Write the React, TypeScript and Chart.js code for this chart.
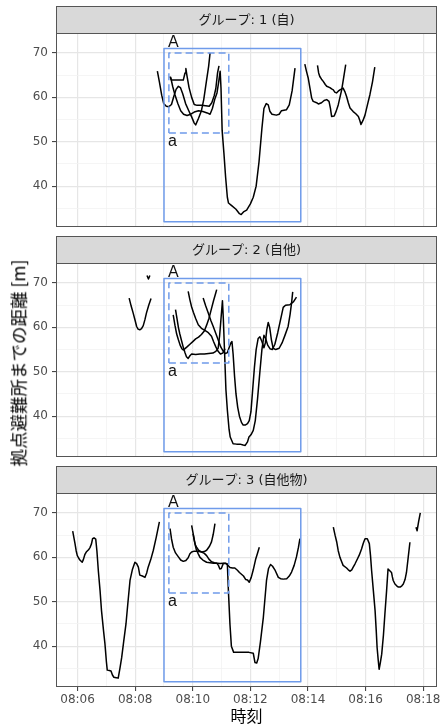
import React, { useEffect, useRef } from 'react';
import { Chart, registerables } from 'chart.js';

Chart.register(...registerables);

type Pt = [number, number];

// ---- axes (x = minutes after 08:00) ----
const xMin = 5.25;
const xMax = 18.48;
const yMin = 30.8;
const yMax = 74.5;
const xMajorTicks = [6, 8, 10, 12, 14, 16, 18];
const xMinorTicks = [7, 9, 11, 13, 15, 17];
const yMajorTicks = [40, 50, 60, 70];
const yMinorTicks = [35, 45, 55, 65];

const panelTitles = ['グループ: 1 (自)', 'グループ: 2 (自他)', 'グループ: 3 (自他物)'];
const xAxisTitle = '時刻';
const yAxisTitle = '拠点避難所までの距離 [m]';

// ---- annotation boxes and labels ----
const solidBoxX = [9.0, 13.75];
const solidBoxY = [32, 71];
const dashedBoxX = [9.17, 11.25];
const dashedBoxY = [52, 70];
const upperLabel = { text: 'A', x: 9.14, y: 72.4 };
const lowerLabel = { text: 'a', x: 9.14, y: 50.0 };

// ---- group 1 ----
const g1Line1: Pt[] = [[8.77,65.9],[8.84,63.5],[8.92,60.5],[8.99,58.6],[9.08,58.0],[9.17,57.9],[9.26,58.4],[9.34,60.2],[9.42,61.8],[9.5,62.5],[9.57,62.2],[9.65,60.8],[9.75,58.6],[9.86,57.0],[9.96,55.6],[10.05,54.2],[10.1,53.8],[10.2,55.3],[10.3,57.0],[10.38,59.5],[10.47,63.5],[10.55,67.0],[10.6,70.0]];
const g1Line2: Pt[] = [[9.2,64.7],[9.26,63.9],[9.4,63.9],[9.55,63.9],[9.67,63.9],[9.73,65.5],[9.76,66.5],[9.8,64.8],[9.87,62.2],[9.96,60.0],[10.05,58.4],[10.15,58.2],[10.3,58.2],[10.45,58.1],[10.57,58.0],[10.66,58.8],[10.74,60.3],[10.8,62.0],[10.86,65.5],[10.91,67.1]];
const g1Line3: Pt[] = [[9.23,64.6],[9.3,62.5],[9.38,60.6],[9.48,58.6],[9.58,57.0],[9.68,56.2],[9.8,55.9],[9.93,56.2],[10.05,56.7],[10.2,57.0],[10.35,56.8],[10.5,56.5],[10.6,56.2],[10.68,57.5],[10.76,59.5],[10.84,61.0],[10.9,63.5],[10.95,65.9],[10.98,62.0],[11.02,52.5],[11.08,47.5],[11.14,42.0],[11.2,37.5],[11.24,36.2],[11.35,35.6],[11.5,34.8],[11.62,33.8],[11.68,33.6],[11.76,34.2],[11.87,34.6],[12.0,36.0],[12.1,37.5],[12.2,40.0],[12.3,45.5],[12.4,53.0],[12.47,57.5],[12.55,58.6],[12.62,58.3],[12.68,56.8],[12.75,56.2],[12.9,56.0],[13.0,56.2],[13.08,57.0],[13.25,57.2],[13.35,58.3],[13.45,61.5],[13.55,66.6]];
const g1Line4: Pt[] = [[13.89,67.5],[13.95,65.8],[14.01,64.3],[14.07,62.0],[14.13,59.8],[14.18,59.1],[14.3,58.8],[14.36,58.5],[14.47,58.8],[14.56,59.3],[14.65,59.5],[14.73,59.1],[14.78,57.5],[14.82,55.7],[14.91,55.8],[14.98,56.9],[15.05,58.3],[15.11,60.0],[15.17,61.7],[15.24,64.5],[15.31,67.4]];
const g1Line5: Pt[] = [[14.33,67.2],[14.37,65.5],[14.41,64.7],[14.47,64.1],[14.53,63.6],[14.6,62.9],[14.65,62.5],[14.76,62.2],[14.82,61.9],[14.88,61.7],[14.93,61.2],[14.99,61.0],[15.05,61.4],[15.11,61.7],[15.22,62.1],[15.28,61.3],[15.34,60.2],[15.4,58.8],[15.46,57.6],[15.57,56.8],[15.66,56.3],[15.75,55.7],[15.8,54.8],[15.84,53.9],[15.91,54.8],[15.98,56.0],[16.06,58.2],[16.15,60.6],[16.24,63.5],[16.32,66.8]];

// ---- group 2 ----
const g2Line1: Pt[] = [[8.41,71.7],[8.46,70.9],[8.51,71.7]];
const g2Line2: Pt[] = [[7.79,66.6],[7.86,64.8],[7.93,63.2],[8.0,61.5],[8.05,60.2],[8.1,59.6],[8.16,59.45],[8.22,59.7],[8.28,60.4],[8.34,61.8],[8.39,63.2],[8.47,65.0],[8.55,66.5]];
const g2Line3: Pt[] = [[9.4,64.0],[9.45,62.0],[9.5,60.0],[9.55,58.5],[9.61,57.0],[9.67,55.5],[9.73,54.3],[9.78,53.4],[9.84,53.0],[9.9,53.6],[9.96,54.0],[10.1,53.9],[10.25,54.0],[10.4,54.0],[10.55,54.1],[10.7,54.2],[10.8,54.6],[10.88,55.3],[10.93,58.0],[10.98,62.0],[11.03,66.0],[11.06,62.0],[11.1,55.0],[11.15,46.0],[11.2,41.4],[11.26,37.0],[11.3,35.3],[11.4,33.8],[11.52,33.7],[11.64,33.7],[11.75,33.5],[11.82,33.4],[11.9,34.2],[11.95,35.3],[12.02,35.8],[12.1,36.8],[12.17,39.0],[12.25,44.0],[12.33,50.0],[12.4,55.0],[12.47,58.2],[12.53,57.5],[12.6,56.0],[12.68,55.2],[12.76,55.0],[12.85,56.2],[12.95,58.8],[13.05,61.8],[13.14,64.5],[13.22,65.0],[13.37,65.1],[13.5,65.8],[13.6,66.8]];
const g2Line4: Pt[] = [[9.32,62.8],[9.38,60.5],[9.44,58.5],[9.5,57.2],[9.56,56.0],[9.62,55.2],[9.67,54.9],[9.73,55.2],[9.8,55.6],[9.9,56.2],[10.0,56.8],[10.1,57.4],[10.2,57.8],[10.3,58.4],[10.4,59.2],[10.48,60.5],[10.56,62.0],[10.64,64.0],[10.72,66.0],[10.8,67.8],[10.83,68.5]];
const g2Line5: Pt[] = [[9.84,68.1],[9.9,66.2],[9.96,64.6],[10.02,63.4],[10.1,62.0],[10.19,60.6],[10.3,59.8],[10.42,59.3],[10.54,58.8],[10.65,58.0],[10.72,56.8],[10.8,55.6],[10.88,54.6],[10.96,54.0],[11.04,54.2],[11.12,55.2]];
const g2Line6: Pt[] = [[10.36,66.6],[10.45,64.8],[10.54,63.2],[10.63,61.5],[10.71,60.2],[10.8,58.6],[10.88,57.2],[10.97,55.6],[11.06,54.6],[11.13,54.1],[11.2,54.3],[11.26,55.4],[11.32,56.5],[11.36,56.8],[11.4,54.0],[11.45,49.0],[11.5,45.0],[11.56,42.0],[11.62,40.0],[11.69,38.6],[11.75,38.0],[11.82,38.0],[11.9,38.3],[11.96,39.0],[12.02,41.0],[12.08,46.0],[12.14,51.0],[12.2,55.0],[12.27,57.5],[12.33,57.9],[12.4,56.8],[12.47,55.4],[12.52,56.5],[12.57,59.5],[12.62,61.1],[12.67,60.0],[12.73,57.2],[12.79,55.3],[12.88,55.0],[13.0,55.3],[13.1,56.5],[13.2,58.2],[13.31,60.2],[13.38,63.0],[13.43,65.5],[13.47,68.0]];

// ---- group 3 ----
const g3Line1: Pt[] = [[5.83,65.9],[5.87,64.5],[5.91,63.1],[5.95,61.5],[5.99,60.4],[6.04,59.8],[6.08,59.4],[6.16,58.9],[6.2,59.5],[6.25,60.6],[6.3,61.2],[6.38,61.7],[6.43,62.2],[6.48,63.0],[6.52,64.2],[6.57,64.4],[6.63,64.1],[6.67,61.5],[6.72,57.0],[6.78,52.5],[6.83,48.0],[6.9,43.5],[6.95,40.5],[7.0,36.5],[7.03,34.6],[7.1,34.5],[7.16,34.4],[7.21,33.5],[7.26,33.0],[7.34,32.9],[7.41,32.8],[7.47,35.0],[7.53,37.4],[7.6,41.0],[7.68,45.0],[7.75,50.0],[7.82,54.8],[7.9,57.2],[7.99,58.9],[8.05,58.6],[8.11,57.8],[8.16,56.0],[8.25,55.8],[8.34,55.5],[8.4,56.5],[8.45,57.8],[8.54,59.5],[8.63,61.6],[8.73,64.5],[8.84,68.0]];
const g3Line2: Pt[] = [[9.21,66.5],[9.26,64.2],[9.32,62.3],[9.4,61.0],[9.5,60.1],[9.58,59.4],[9.67,59.1],[9.76,59.3],[9.84,59.9],[9.9,60.8],[9.96,61.2],[10.05,61.4],[10.13,61.4],[10.22,61.3],[10.31,61.2],[10.4,60.9],[10.48,60.4],[10.56,59.6],[10.65,59.0],[10.75,58.8],[10.85,58.7],[10.95,58.6],[11.06,58.7],[11.15,58.7],[11.22,58.2],[11.29,57.7],[11.38,57.6],[11.46,57.6],[11.55,57.1],[11.62,56.6],[11.69,56.2],[11.76,55.8],[11.84,55.0],[11.9,54.9],[11.96,54.4],[12.03,55.5],[12.1,57.2],[12.18,59.5],[12.25,61.0],[12.31,62.3]];
const g3Line3: Pt[] = [[9.96,67.2],[10.0,65.8],[10.05,64.0],[10.09,62.8],[10.13,62.3],[10.2,61.6],[10.31,61.2],[10.4,61.3],[10.48,61.6],[10.58,62.5],[10.65,63.5],[10.71,65.2],[10.77,67.6]];
const g3Line4: Pt[] = [[10.01,65.3],[10.06,63.5],[10.12,61.8],[10.19,60.8],[10.25,60.0],[10.35,59.4],[10.48,58.9],[10.6,58.8],[10.72,58.7],[10.83,58.7],[10.89,58.2],[10.94,57.4],[10.99,57.5],[11.06,58.6],[11.13,58.6],[11.2,58.5],[11.24,52.0],[11.29,45.0],[11.34,40.0],[11.42,38.6],[11.6,38.6],[11.8,38.6],[11.95,38.6],[12.1,38.4],[12.16,36.3],[12.22,36.2],[12.27,37.2],[12.35,41.0],[12.45,46.5],[12.56,54.8],[12.63,57.5],[12.7,58.4],[12.77,58.0],[12.85,57.2],[12.97,55.5],[13.05,55.2],[13.14,55.1],[13.26,55.2],[13.35,55.8],[13.43,56.7],[13.52,58.2],[13.6,60.1],[13.67,62.3],[13.72,64.2]];
const g3Line5: Pt[] = [[14.88,66.8],[14.94,65.0],[15.0,63.4],[15.05,61.5],[15.11,60.0],[15.17,59.0],[15.22,58.2],[15.34,57.6],[15.4,57.2],[15.46,56.9],[15.52,57.2],[15.57,57.8],[15.63,58.5],[15.69,59.3],[15.78,60.5],[15.86,61.9],[15.92,63.2],[15.98,64.2],[16.06,64.2],[16.13,63.1],[16.17,60.5],[16.21,57.0],[16.27,52.5],[16.33,48.0],[16.37,43.5],[16.4,39.7],[16.44,36.8],[16.47,34.8],[16.51,36.2],[16.56,38.2],[16.62,42.5],[16.67,47.2],[16.73,52.5],[16.78,57.4],[16.84,57.0],[16.9,56.6],[16.93,55.6],[16.96,54.8],[17.02,54.0],[17.08,53.6],[17.14,53.3],[17.2,53.3],[17.26,53.6],[17.31,54.0],[17.37,55.0],[17.42,56.6],[17.48,60.0],[17.54,63.4]];
const g3Line6: Pt[] = [[17.75,66.8],[17.79,66.0],[17.84,68.0],[17.9,70.0]];

const groupLines: Pt[][][] = [
  [g1Line1, g1Line2, g1Line3, g1Line4, g1Line5],
  [g2Line1, g2Line2, g2Line3, g2Line4, g2Line5, g2Line6],
  [g3Line1, g3Line2, g3Line3, g3Line4, g3Line5, g3Line6],
];

// ---- layout & style ----
const W = 441;
const PANEL_TOPS = [6, 236, 466];
const STRIP_H = 27;
const PLOT_H = 194;
const Y_AXIS_W = 56;
const RIGHT_PAD = 4;
const X_AXIS_H = 39;
const BLUE = '#6F9BEA';
const GRID_MAJOR = '#E6E6E6';
const GRID_MINOR = '#F3F3F3';
const BORDER = '#555555';
const TICK_TEXT = '#4D4D4D';
const LATIN = '"DejaVu Sans"';
const CJK = '"Noto Sans CJK JP"';

const boxPath = (xs: number[], ys: number[]) => [
  { x: xs[0], y: ys[0] }, { x: xs[1], y: ys[0] }, { x: xs[1], y: ys[1] },
  { x: xs[0], y: ys[1] }, { x: xs[0], y: ys[0] },
];

const pad2 = (n: number) => String(n).padStart(2, '0');

function makePlugin(title: string) {
  return {
    id: 'facetDecor',
    beforeDraw(chart: any) {
      const { ctx, chartArea: a } = chart;
      ctx.save();
      ctx.fillStyle = '#D9D9D9';
      ctx.fillRect(a.left, a.top - STRIP_H, a.right - a.left, STRIP_H);
      ctx.strokeStyle = BORDER;
      ctx.lineWidth = 1;
      ctx.strokeRect(a.left + 0.5, a.top - STRIP_H + 0.5, a.right - a.left - 1, STRIP_H);
      ctx.fillStyle = '#1A1A1A';
      ctx.font = `13px ${LATIN}, ${CJK}`;
      ctx.textAlign = 'center';
      ctx.textBaseline = 'middle';
      ctx.fillText(title, (a.left + a.right) / 2, a.top - STRIP_H / 2 + 1);
      ctx.restore();
    },
    afterDatasetsDraw(chart: any) {
      const { ctx } = chart;
      const xs = chart.scales.x;
      const ys = chart.scales.y;
      ctx.save();
      ctx.fillStyle = '#111111';
      ctx.font = '16px "Liberation Sans", Arial, sans-serif';
      ctx.textAlign = 'left';
      ctx.textBaseline = 'middle';
      for (const l of [upperLabel, lowerLabel]) {
        ctx.fillText(l.text, xs.getPixelForValue(l.x), ys.getPixelForValue(l.y));
      }
      ctx.restore();
    },
    afterDraw(chart: any) {
      const { ctx, chartArea: a } = chart;
      ctx.save();
      ctx.strokeStyle = BORDER;
      ctx.lineWidth = 1;
      ctx.strokeRect(a.left + 0.5, a.top + 0.5, a.right - a.left - 1, a.bottom - a.top - 1);
      ctx.restore();
    },
  };
}

function Panel({ idx }: { idx: number }) {
  const ref = useRef<HTMLCanvasElement>(null);
  const showX = idx === 2;
  const h = STRIP_H + PLOT_H + (showX ? X_AXIS_H : 0);

  useEffect(() => {
    const isMajorX = (v: number) => xMajorTicks.includes(v);
    const isMajorY = (v: number) => yMajorTicks.includes(v);
    const datasets: any[] = [
      { data: boxPath(solidBoxX, solidBoxY), borderColor: BLUE, borderWidth: 1.5 },
      { data: boxPath(dashedBoxX, dashedBoxY), borderColor: BLUE, borderWidth: 1.5, borderDash: [7, 4] },
      ...groupLines[idx].map((line) => ({
        data: line.map(([x, y]) => ({ x, y })),
        borderColor: '#000000',
        borderWidth: 1.5,
      })),
    ].map((d) => ({ ...d, pointRadius: 0, fill: false, tension: 0, borderJoinStyle: 'round' }));

    const chart = new Chart(ref.current!, {
      type: 'line',
      data: { datasets },
      plugins: [makePlugin(panelTitles[idx])],
      options: {
        animation: false,
        responsive: false,
        devicePixelRatio: 1,
        events: [],
        layout: { padding: { top: STRIP_H, right: RIGHT_PAD, bottom: 0, left: 0 } },
        plugins: { legend: { display: false }, tooltip: { enabled: false } },
        scales: {
          x: {
            type: 'linear',
            min: xMin,
            max: xMax,
            afterBuildTicks: (s: any) => {
              s.ticks = [...xMajorTicks, ...xMinorTicks].sort((a, b) => a - b).map((v) => ({ value: v }));
            },
            afterFit: (s: any) => {
              s.height = showX ? X_AXIS_H : 0;
              s.paddingLeft = 0;
              s.paddingRight = 0;
            },
            grid: {
              color: (c: any) => (isMajorX(c.tick?.value) ? GRID_MAJOR : GRID_MINOR),
              lineWidth: (c: any) => (isMajorX(c.tick?.value) ? 1.2 : 0.8),
              tickColor: (c: any) => (isMajorX(c.tick?.value) ? '#333333' : 'rgba(0,0,0,0)'),
              drawTicks: showX,
              tickLength: 4,
              tickWidth: 1,
            },
            border: { display: false },
            ticks: {
              display: showX,
              autoSkip: false,
              maxRotation: 0,
              padding: 2,
              color: TICK_TEXT,
              font: { family: LATIN, size: 12 },
              callback: (v: any) => (isMajorX(Number(v)) ? `08:${pad2(Number(v))}` : ''),
            },
            title: {
              display: showX,
              text: xAxisTitle,
              color: '#000000',
              font: { family: CJK, size: 16 },
              padding: { top: 0, bottom: 0 },
            },
          },
          y: {
            type: 'linear',
            min: yMin,
            max: yMax,
            afterBuildTicks: (s: any) => {
              s.ticks = [...yMajorTicks, ...yMinorTicks].sort((a, b) => a - b).map((v) => ({ value: v }));
            },
            afterFit: (s: any) => {
              s.width = Y_AXIS_W;
              s.paddingTop = 0;
              s.paddingBottom = 0;
            },
            grid: {
              color: (c: any) => (isMajorY(c.tick?.value) ? GRID_MAJOR : GRID_MINOR),
              lineWidth: (c: any) => (isMajorY(c.tick?.value) ? 1.2 : 0.8),
              tickColor: (c: any) => (isMajorY(c.tick?.value) ? '#333333' : 'rgba(0,0,0,0)'),
              drawTicks: true,
              tickLength: 4,
              tickWidth: 1,
            },
            border: { display: false },
            ticks: {
              autoSkip: false,
              padding: 4,
              color: TICK_TEXT,
              font: { family: LATIN, size: 12 },
              callback: (v: any) => (isMajorY(Number(v)) ? String(v) : ''),
            },
          },
        },
      } as any,
    });
    return () => chart.destroy();
  }, [idx]);

  return (
    <canvas
      ref={ref}
      width={W}
      height={h}
      style={{ position: 'absolute', left: 0, top: PANEL_TOPS[idx], width: W, height: h }}
    />
  );
}

export default function App() {
  return (
    <div style={{ position: 'absolute', left: 0, top: 0, width: W, height: 726, background: '#FFFFFF', overflow: 'hidden' }}>
      {[0, 1, 2].map((i) => (
        <Panel key={i} idx={i} />
      ))}
      <div
        style={{
          position: 'absolute',
          left: 17.5,
          top: 363,
          transform: 'translate(-50%, -50%) rotate(-90deg)',
          whiteSpace: 'nowrap',
          fontFamily: CJK,
          fontSize: 17.5,
          lineHeight: 1,
          color: '#000000',
        }}
      >
        {yAxisTitle}
      </div>
    </div>
  );
}
